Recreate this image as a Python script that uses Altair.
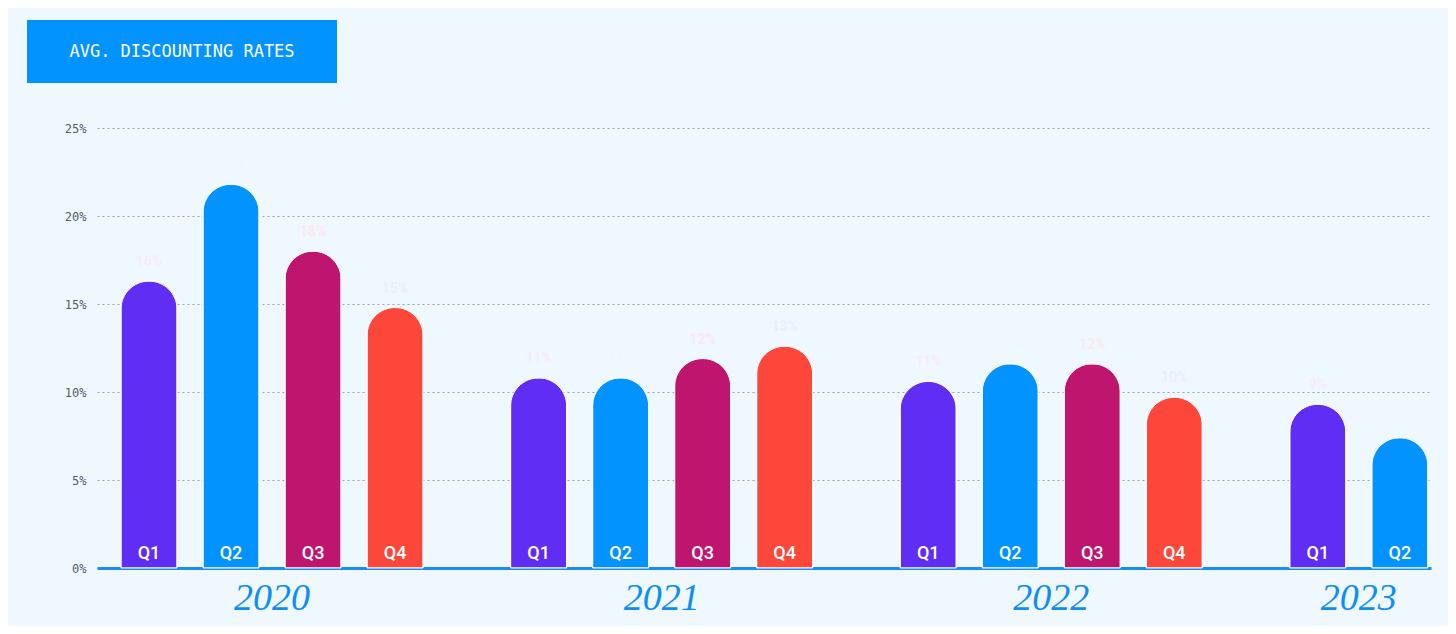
import altair as alt
import pandas as pd

years = ["2020", "2020", "2020", "2020",
         "2021", "2021", "2021", "2021",
         "2022", "2022", "2022", "2022",
         "2023", "2023"]
quarters = ["Q1", "Q2", "Q3", "Q4",
            "Q1", "Q2", "Q3", "Q4",
            "Q1", "Q2", "Q3", "Q4",
            "Q1", "Q2"]
rates = [16.3, 21.8, 18.0, 14.8,
         10.8, 10.8, 11.9, 12.6,
         10.6, 11.6, 11.6, 9.7,
         9.3, 7.4]
value_labels = ["16%", "22%", "18%", "15%",
                "11%", "11%", "12%", "13%",
                "11%", "12%", "12%", "10%",
                "9%", "7%"]
quarter_order = ["Q1", "Q2", "Q3", "Q4"]
bar_colors = ["#5f2df3", "#0393fe", "#be166e", "#fc473a"]
faint_colors = ["#f7ebfc", "#eef6fe", "#fbe8f4", "#eaeffc"]
title_text = "AVG. DISCOUNTING RATES"
y_ticks = [0, 5, 10, 15, 20, 25]

year_list = sorted(set(years))
df = pd.DataFrame({"year": years, "quarter": quarters, "rate": rates, "vlabel": value_labels})
GROUP = 4.75
df["slot"] = [year_list.index(y) * GROUP + quarter_order.index(q) for y, q in zip(years, quarters)]

W, H = 1334, 440
xscale = alt.Scale(domain=[-0.634, 15.63], nice=False, zero=False, padding=0)
yscale = alt.Scale(domain=[0, 25], nice=False)

base = alt.Chart(df)

bars = base.mark_bar(
    width=56, cornerRadiusTopLeft=28, cornerRadiusTopRight=28,
    stroke="white", strokeWidth=1
).encode(
    x=alt.X("slot:Q", scale=xscale,
            axis=alt.Axis(labels=False, ticks=False, grid=False, title=None,
                          domainColor="#1a8cf6", domainWidth=3)),
    y=alt.Y("rate:Q", scale=yscale,
            axis=alt.Axis(values=y_ticks, labelExpr="datum.value + '%'", title=None,
                          ticks=False, domain=False, grid=True,
                          gridColor="#9aa3ad", gridDash=[2, 3], gridWidth=1,
                          labelFont="DejaVu Sans Mono", labelFontSize=12,
                          labelColor="#525c6e", labelPadding=11)),
    color=alt.Color("quarter:N", scale=alt.Scale(domain=quarter_order, range=bar_colors), legend=None),
)

qlabels = base.mark_text(
    color="white", font="Roboto", fontSize=18, fontWeight=500, baseline="bottom", dy=-5
).encode(
    x=alt.X("slot:Q", scale=xscale),
    y=alt.datum(0),
    text="quarter:N",
)

vlabels = base.mark_text(
    font="Roboto", fontSize=14, fontWeight="bold", baseline="bottom", dy=-12
).encode(
    x=alt.X("slot:Q", scale=xscale),
    y=alt.Y("rate:Q", scale=yscale),
    text="vlabel:N",
    color=alt.Color("quarter:N", scale=alt.Scale(domain=quarter_order, range=faint_colors), legend=None),
)

year_text = base.transform_aggregate(
    center="mean(slot)", groupby=["year"]
).mark_text(
    font="Liberation Serif", fontStyle="italic", fontSize=38, color="#0d8ef3", baseline="middle"
).encode(
    x=alt.X("center:Q", scale=xscale),
    y=alt.value(H + 31),
    text="year:N",
)

tdf = pd.DataFrame({"t": [title_text]})
title_box = alt.Chart(tdf).mark_rect(color="#0393fe").encode(
    x=alt.value(-70), x2=alt.value(240), y=alt.value(-108), y2=alt.value(-45)
)
title_label = alt.Chart(tdf).mark_text(
    font="DejaVu Sans Mono", fontSize=17, color="white", align="center", baseline="middle"
).encode(x=alt.value(85), y=alt.value(-76), text="t:N")

chart = alt.layer(bars, qlabels, vlabels, year_text, title_box, title_label).resolve_scale(
    color="independent"
).properties(
    width=W, height=H,
    autosize=alt.AutoSizeParams(type="none"),
    padding={"left": 89, "top": 120, "right": 17, "bottom": 58},
    background="#f0f8ff",
).configure_view(stroke=None)

chart.save("out.html", embed_options={"renderer": "svg", "actions": False})
